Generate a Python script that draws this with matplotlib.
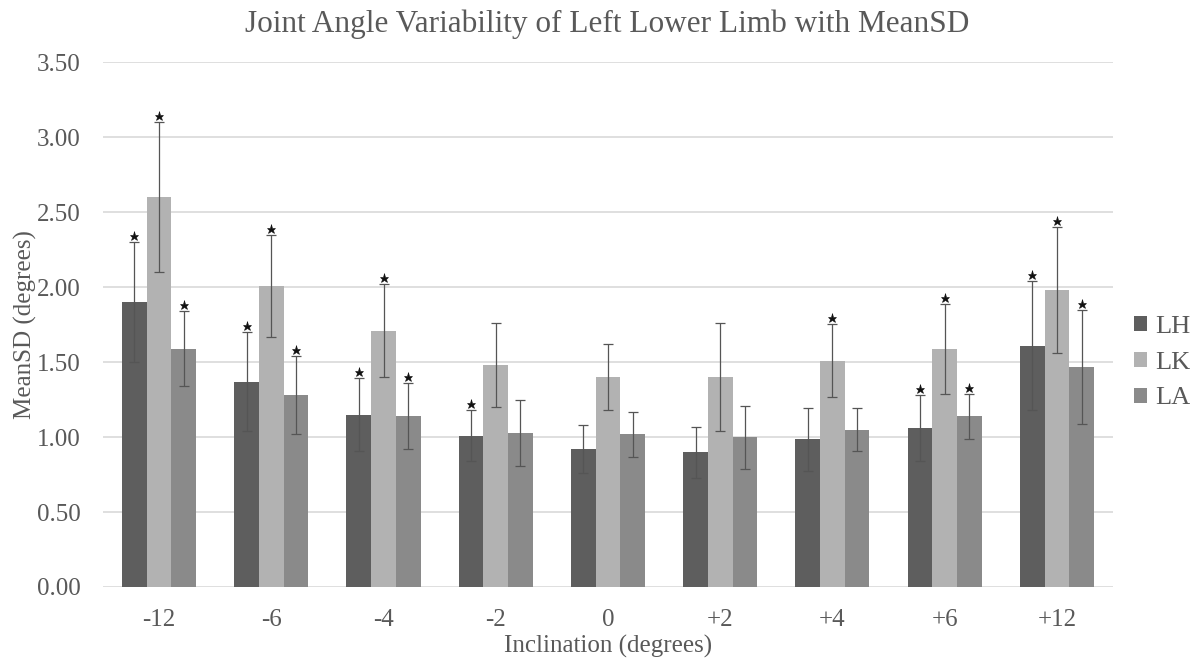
import matplotlib
matplotlib.use('Agg')
import matplotlib.pyplot as plt
import numpy as np

plt.rcParams['font.family'] = ['Liberation Serif', 'DejaVu Serif']

inclinations = ['-12', '-6', '-4', '-2', '0', '+2', '+4', '+6', '+12']
joints = ['LH', 'LK', 'LA']

lh_mean = [1.90, 1.37, 1.15, 1.01, 0.92, 0.90, 0.985, 1.06, 1.61]
lh_sd = [0.40, 0.33, 0.245, 0.17, 0.16, 0.17, 0.21, 0.22, 0.43]
lk_mean = [2.60, 2.01, 1.71, 1.48, 1.40, 1.40, 1.51, 1.59, 1.98]
lk_sd = [0.50, 0.34, 0.31, 0.28, 0.22, 0.36, 0.245, 0.30, 0.42]
la_mean = [1.59, 1.28, 1.14, 1.03, 1.02, 1.00, 1.05, 1.14, 1.47]
la_sd = [0.25, 0.26, 0.22, 0.22, 0.15, 0.21, 0.145, 0.15, 0.38]

# significance marks per joint (1 = star above the error bar)
lh_sig = [1, 1, 1, 1, 0, 0, 0, 1, 1]
lk_sig = [1, 1, 1, 0, 0, 0, 1, 1, 1]
la_sig = [1, 1, 1, 0, 0, 0, 0, 1, 1]

colors = ['#5e5e5e', '#b2b2b2', '#8a8a8a']
txt = '#595959'

fig = plt.figure(figsize=(12, 6.62), dpi=100)
ax = fig.add_axes([0.0858, 0.1133, 0.8417, 0.7927])

x = np.arange(len(inclinations))
w = 0.22
means = [lh_mean, lk_mean, la_mean]
sds = [lh_sd, lk_sd, la_sd]
sigs = [lh_sig, lk_sig, la_sig]

for i in range(3):
    xs = x + (i - 1) * w
    ax.bar(xs, means[i], w, color=colors[i], label=joints[i], zorder=2)
    ax.errorbar(xs, means[i], yerr=sds[i], fmt='none', ecolor='#555555',
                elinewidth=0.9, capsize=3.5, capthick=0.9, zorder=3)
    for xi, m, s, flag in zip(xs, means[i], sds[i], sigs[i]):
        if flag:
            ax.plot(xi, m + s + 0.04, marker='*', color='#111111',
                    markersize=6.5, markeredgewidth=0.4, linestyle='none', zorder=4)

ax.set_xlim(-0.5, len(inclinations) - 0.5)
ax.set_ylim(0, 3.5)
ax.set_yticks(np.arange(0, 3.51, 0.5))
ax.set_yticklabels(['%.2f' % v for v in np.arange(0, 3.51, 0.5)])
ax.set_xticks(x)
ax.set_xticklabels(inclinations)
ax.yaxis.grid(True, color='#d9d9d9', linewidth=1.2, zorder=0)
ax.set_axisbelow(True)
for sp in ax.spines.values():
    sp.set_visible(False)
ax.tick_params(axis='both', length=0, labelsize=18, labelcolor=txt)
ax.tick_params(axis='y', pad=16)
ax.tick_params(axis='x', pad=16)

ax.set_xlabel('Inclination (degrees)', fontsize=18, color=txt, labelpad=3)
ax.set_ylabel('MeanSD (degrees)', fontsize=18, color=txt, labelpad=0)
fig.suptitle('Joint Angle Variability of Left Lower Limb with MeanSD',
             fontsize=22.5, color=txt, x=0.506, y=0.985)

fig.legend(loc='center left', bbox_to_anchor=(0.925, 0.452), frameon=False,
           fontsize=19, labelcolor=txt, handlelength=0.5, handleheight=0.5,
           handletextpad=0.3, labelspacing=0.52)

plt.savefig('out.png', dpi=100)
